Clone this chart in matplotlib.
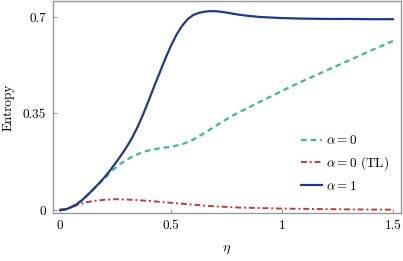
import numpy as np
import matplotlib.pyplot as plt

plt.rcParams['font.family'] = 'serif'
plt.rcParams['font.serif'] = ['cmr10', 'DejaVu Serif']
plt.rcParams['mathtext.fontset'] = 'cm'

# alpha = 1
eta_a1 = [0, 0.025, 0.05, 0.075, 0.1, 0.125, 0.15, 0.175, 0.2, 0.225, 0.25, 0.275,
          0.3, 0.325, 0.35, 0.375, 0.4, 0.425, 0.45, 0.475, 0.5, 0.525, 0.55,
          0.575, 0.6, 0.625, 0.65, 0.675, 0.7, 0.725, 0.75, 0.8, 0.85, 0.9, 1.0,
          1.1, 1.2, 1.3, 1.4, 1.5]
S_a1 = [0, 0.002, 0.010, 0.021, 0.036, 0.055, 0.075, 0.096, 0.118, 0.143, 0.170,
        0.198, 0.228, 0.262, 0.302, 0.348, 0.398, 0.450, 0.500, 0.550, 0.596,
        0.636, 0.668, 0.692, 0.707, 0.715, 0.719, 0.721, 0.721, 0.719, 0.716,
        0.709, 0.704, 0.700, 0.696, 0.694, 0.693, 0.693, 0.692, 0.692]

# alpha = 0
eta_a0 = [0, 0.025, 0.05, 0.075, 0.1, 0.125, 0.15, 0.175, 0.2, 0.225, 0.25, 0.275,
          0.3, 0.325, 0.35, 0.375, 0.4, 0.45, 0.5, 0.55, 0.6, 0.65, 0.7, 0.75,
          0.8, 0.9, 1.0, 1.1, 1.2, 1.3, 1.4, 1.5]
S_a0 = [0, 0.002, 0.010, 0.021, 0.036, 0.055, 0.074, 0.094, 0.113, 0.136, 0.153,
        0.169, 0.182, 0.193, 0.202, 0.210, 0.216, 0.224, 0.229, 0.238, 0.255,
        0.279, 0.304, 0.329, 0.352, 0.392, 0.432, 0.470, 0.506, 0.542, 0.578,
        0.613]

# alpha = 0 (TL)
eta_tl = [0, 0.05, 0.075, 0.1, 0.125, 0.15, 0.175, 0.2, 0.25, 0.3, 0.4, 0.5, 0.6,
          0.7, 0.8, 0.9, 1.0, 1.1, 1.2, 1.3, 1.4, 1.5]
S_tl = [0, 0.008, 0.017, 0.024, 0.029, 0.032, 0.035, 0.037, 0.039, 0.038, 0.033,
        0.026, 0.019, 0.013, 0.009, 0.007, 0.005, 0.004, 0.003, 0.002, 0.0015,
        0.001]

fig = plt.figure(figsize=(4.03, 2.61), dpi=100)
ax = fig.add_axes([53/403, 48/261, 348/403, 212/261])

ax.plot(eta_a0, S_a0, color='#3dba8a', lw=1.6, ls=(0, (2.5, 1.8)), label=r'$\alpha = 0$')
ax.plot(eta_tl, S_tl, color='#c0393b', lw=1.4, ls=(0, (3, 1.5, 1, 1.5)), label=r'$\alpha = 0$ (TL)')
ax.plot(eta_a1, S_a1, color='#1f3a8a', lw=1.6, label=r'$\alpha = 1$')

ax.set_xlim(-0.0315, 1.536)
ax.set_ylim(-0.011, 0.758)
ax.set_xticks([0, 0.5, 1, 1.5])
ax.set_xticklabels(['0', '0.5', '1', '1.5'])
ax.set_yticks([0, 0.35, 0.7])
ax.set_yticklabels(['0', '0.35', '0.7'])
ax.tick_params(direction='in', length=3, color='#999999', labelsize=9.5, pad=5)
for s in ax.spines.values():
    s.set_color('#999999')
    s.set_linewidth(1)

ax.set_xlabel(r'$\eta$', fontsize=10, labelpad=8)
ax.set_ylabel('Entropy', fontsize=9.5, labelpad=6)

ax.legend(loc='lower right', frameon=False, fontsize=9.5, handlelength=1.6,
          handletextpad=0.3, labelspacing=0.55, bbox_to_anchor=(1.0, 0.04))

fig.savefig('out.png', dpi=100)
